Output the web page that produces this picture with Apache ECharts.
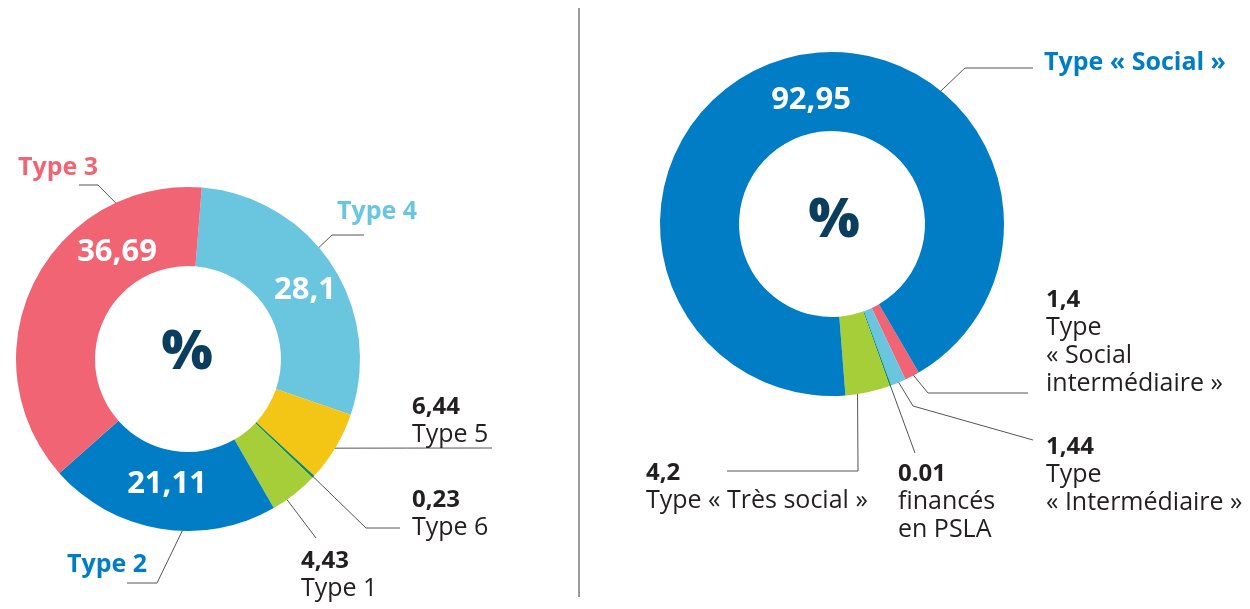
<!DOCTYPE html>
<html>
<head>
<meta charset="utf-8">
<script src="https://cdn.jsdelivr.net/npm/echarts@6/dist/echarts.min.js"></script>
<style>
html, body { margin: 0; padding: 0; background: #fff; }
#chart { width: 1250px; height: 609px; }
</style>
</head>
<body>
<div id="chart"></div>
<script>
// left donut, clockwise from the top
const leftNames = ['Type 4', 'Type 5', 'Type 6', 'Type 1', 'Type 2', 'Type 3'];
const leftValues = [28.1, 6.44, 0.23, 4.43, 21.11, 36.69];
const leftTexts = ['28,1', '6,44', '0,23', '4,43', '21,11', '36,69'];
const leftColors = ['#6ac6df', '#f3c515', '#0d8a5c', '#a6ce39', '#007dc5', '#f06474'];

// right donut, clockwise from the red slice
const rightNames = ['Type\n« Social\nintermédiaire »', 'Type\n« Intermédiaire »', 'financés\nen PSLA', 'Type « Très social »', 'Type « Social »'];
const rightValues = [1.4, 1.44, 0.01, 4.2, 92.95];
const rightTexts = ['1,4', '1,44', '0.01', '4,2', '92,95'];
const rightColors = ['#f06474', '#6ac6df', '#0d8a5c', '#a6ce39', '#007dc5'];

const FONT = '"Open Sans", Lato, sans-serif';
const DARK = '#231f20';

// label placement (kind: 'name' = coloured name only, 'both' = value + name)
const leftLayout = [
  {kind: 'name', x: 337, y: 212, line: [[332, 235], [364, 235]], r: 151, angle: 50},
  {kind: 'both', x: 412, y: 393, line: [[492, 448]], r: 162, angle: 123.4},
  {kind: 'both', x: 412, y: 486, line: [[366, 528], [400, 528]], r: 168},
  {kind: 'both', x: 301, y: 547, line: [[316, 538]], r: 160, angle: 145},
  {kind: 'name', x: 67, y: 565, line: [[157, 583], [127, 583]], r: 166, angle: 181},
  {kind: 'name', x: 18, y: 168, line: [[98, 185], [79, 185]], r: 158, angle: 337}
];
const leftInside = [[305, 290], null, null, null, [167, 484], [117, 252]];

const rightLayout = [
  {kind: 'both', x: 1046, y: 286, line: [[928, 393], [1028, 393]], r: 164},
  {kind: 'both', x: 1046, y: 433, line: [[913, 406], [1033, 440]], r: 169},
  {kind: 'both', x: 898, y: 460, line: [[915, 453]], r: 163},
  {kind: 'both', x: 646, y: 459, line: [[858, 471], [727, 471]], r: 163, angle: 171},
  {kind: 'name', x: 1044, y: 63, line: [[965, 68], [1033, 68]], r: 165, angle: 39}
];
const rightInside = [null, null, null, null, [811, 100]];

function anchor(c, p, r, ang) {
  let a = ang != null ? ang * Math.PI / 180 : Math.atan2(p[0] - c[0], c[1] - p[1]);
  return [c[0] + r * Math.sin(a), c[1] - r * Math.cos(a)];
}

function outerLabel(kind, text, name, color) {
  if (kind === 'name') {
    return {
      formatter: '{nm|' + name + '}',
      rich: { nm: { fontFamily: FONT, fontSize: 25, fontWeight: 'bold', color: color } }
    };
  }
  const lines = name.split('\n').map(s => '{n|' + s + '}').join('\n');
  return {
    formatter: '{v|' + text + '}\n' + lines,
    rich: {
      v: { fontFamily: FONT, fontSize: 24, fontWeight: 'bold', color: DARK, lineHeight: 28 },
      n: { fontFamily: FONT, fontSize: 25, color: DARK, lineHeight: 28 }
    }
  };
}

function donut(center, names, values, texts, colors, layout, inside, startAngle, minAngle) {
  const base = names.map((n, i) => ({ name: n, value: values[i], itemStyle: { color: colors[i] } }));
  const slices = {
    type: 'pie',
    center: center,
    radius: [93, 172],
    startAngle: startAngle,
    minAngle: minAngle,
    avoidLabelOverlap: false,
    silent: true,
    itemStyle: { borderWidth: 0 },
    label: { show: true, position: 'outside' },
    labelLine: { show: true, length: 10, length2: 10, lineStyle: { color: '#555', width: 1 } },
    data: base.map((d, i) => Object.assign({}, d, {
      label: outerLabel(layout[i].kind, texts[i], d.name, colors[i])
    })),
    labelLayout: function (p) {
      const l = layout[p.dataIndex];
      const p0 = anchor(center, p.labelLinePoints ? p.labelLinePoints[0] : center, l.r, l.angle);
      let pts = [p0].concat(l.line);
      if (pts.length === 2) {
        pts = [pts[0], [(pts[0][0] + pts[1][0]) / 2, (pts[0][1] + pts[1][1]) / 2], pts[1]];
      }
      return {
        x: l.x, y: l.y, align: 'left',
        verticalAlign: l.kind === 'name' ? 'middle' : 'top',
        labelLinePoints: pts
      };
    }
  };
  const values2 = {
    type: 'pie',
    center: center,
    radius: [93, 172],
    startAngle: startAngle,
    minAngle: minAngle,
    silent: true,
    z: 3,
    itemStyle: { color: 'rgba(0,0,0,0)' },
    labelLine: { show: false },
    data: base.map((d, i) => ({
      name: d.name, value: d.value,
      label: inside[i] ? {
        show: true, position: 'inside', formatter: texts[i],
        fontFamily: FONT, fontSize: 31, fontWeight: 'bold', color: '#fff'
      } : { show: false }
    })),
    labelLayout: function (p) {
      const q = inside[p.dataIndex];
      if (!q) return {};
      return { x: q[0], y: q[1], align: 'center', verticalAlign: 'middle' };
    }
  };
  return [slices, values2];
}

const chart = echarts.init(document.getElementById('chart'));
chart.setOption({
  animation: false,
  backgroundColor: '#fff',
  series: [].concat(
    donut([188, 359], leftNames, leftValues, leftTexts, leftColors, leftLayout, leftInside, 85.4, 0),
    donut([832, 224], rightNames, rightValues, rightTexts, rightColors, rightLayout, rightInside, -59.7, 0.5)
  ),
  graphic: [
    { type: 'line', shape: { x1: 579, y1: 8, x2: 579, y2: 597 }, style: { stroke: '#9a9a9a', lineWidth: 2 } },
    { type: 'text', x: 187, y: 354, style: { text: '%', font: '800 54px ' + FONT, fill: '#0b3d5e', align: 'center', verticalAlign: 'middle' } },
    { type: 'text', x: 834, y: 222, style: { text: '%', font: '800 54px ' + FONT, fill: '#0b3d5e', align: 'center', verticalAlign: 'middle' } }
  ]
});
</script>
</body>
</html>
